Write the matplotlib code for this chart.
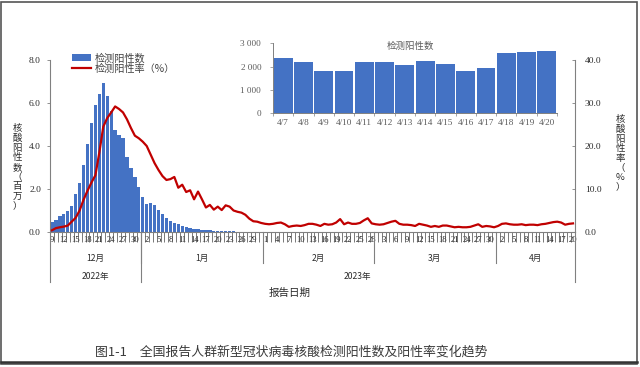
import numpy as np
import pandas as pd
import matplotlib
matplotlib.use("Agg")
import matplotlib.pyplot as plt
from matplotlib.patches import Rectangle
from matplotlib.lines import Line2D

plt.rcParams['font.family'] = ['Noto Sans CJK SC', 'DejaVu Sans']

# ---------------- data ----------------
dates = pd.date_range("2022-12-09", "2023-04-20", freq="D")

# daily nucleic-acid positives (millions)
pos_dec = [0.47, 0.54, 0.74, 0.86, 1.00, 1.22, 1.78, 2.28, 3.10, 4.07, 5.08, 5.90,
           6.44, 6.94, 6.32, 5.65, 4.73, 4.50, 4.36, 3.50, 3.00, 2.55, 2.10]
pos_jan = [1.62, 1.30, 1.36, 1.25, 1.02, 0.85, 0.66, 0.50, 0.40, 0.36, 0.29, 0.23,
           0.19, 0.16, 0.12, 0.11, 0.09, 0.08, 0.06, 0.05, 0.04, 0.035, 0.030, 0.026,
           0.022, 0.019, 0.016, 0.014, 0.012, 0.011, 0.010]
pos_feb = [0.009, 0.008, 0.008, 0.007, 0.007, 0.006, 0.006, 0.006, 0.005, 0.005,
           0.005, 0.005, 0.004, 0.004, 0.004, 0.004, 0.004, 0.003, 0.003, 0.003,
           0.003, 0.003, 0.003, 0.003, 0.003, 0.003, 0.003, 0.003]
pos_mar = [0.003, 0.003, 0.003, 0.003, 0.003, 0.003, 0.003, 0.003, 0.003, 0.003,
           0.0025, 0.0025, 0.0025, 0.0025, 0.0025, 0.0025, 0.0025, 0.0025, 0.0025,
           0.0025, 0.002, 0.002, 0.002, 0.002, 0.002, 0.002, 0.002, 0.002, 0.002,
           0.002, 0.002]
pos_apr_early = [0.0022, 0.0024, 0.0021, 0.0023, 0.0022, 0.0021]

# inset: positives 4/7 - 4/20
inset_labels = ["4/7", "4/8", "4/9", "4/10", "4/11", "4/12", "4/13",
                "4/14", "4/15", "4/16", "4/17", "4/18", "4/19", "4/20"]
inset_counts = [2360, 2200, 1830, 1830, 2200, 2200, 2060,
                2230, 2100, 1815, 1940, 2600, 2640, 2670]

positives = pos_dec + pos_jan + pos_feb + pos_mar + pos_apr_early + [c / 1e6 for c in inset_counts]

# positive rate (%)
rate_dec = [0.4, 0.9, 1.1, 1.25, 1.5, 2.4, 3.3, 5.0, 7.5, 9.6, 11.5, 13.2, 18.5,
            24.5, 26.5, 27.8, 29.2, 28.6, 27.8, 26.2, 24.2, 22.4, 21.8]
rate_jan = [21.0, 20.0, 18.0, 16.0, 14.4, 13.0, 12.1, 12.3, 12.8, 10.3, 11.0, 9.3,
            9.7, 7.6, 9.4, 7.6, 5.7, 6.3, 5.2, 5.9, 5.1, 6.2, 5.9, 5.0, 4.7, 4.5,
            4.0, 3.1, 2.5, 2.4, 2.1]
rate_feb = [1.9, 1.8, 1.9, 2.1, 2.2, 1.8, 1.2, 1.4, 1.5, 1.4, 1.6, 1.9, 1.9, 1.7,
            1.4, 1.9, 1.7, 1.8, 2.2, 3.0, 1.8, 2.2, 1.9, 1.9, 2.1, 2.7, 3.2, 2.0]
rate_mar = [1.8, 1.7, 1.8, 2.1, 2.4, 2.6, 1.9, 1.7, 1.7, 1.6, 1.4, 1.9, 1.7, 1.5,
            1.2, 1.4, 1.2, 1.5, 1.5, 1.3, 1.1, 1.2, 1.1, 1.1, 1.2, 1.5, 1.8, 1.2,
            1.4, 1.3, 1.1]
rate_apr = [1.4, 1.9, 2.0, 1.8, 1.7, 1.7, 1.8, 1.6, 1.7, 1.7, 1.6, 1.8, 1.9, 2.1,
            2.3, 2.4, 2.2, 1.7, 1.9, 2.0]
rates = rate_dec + rate_jan + rate_feb + rate_mar + rate_apr

left_ticks = [0, 2, 4, 6, 8]
right_ticks = [0, 10, 20, 30, 40]
inset_ticks = [0, 1000, 2000, 3000]
inset_tick_labels = ["0", "1 000", "2 000", "3 000"]

month_names = ["12月", "1月", "2月", "3月", "4月"]
year_names = ["2022年", "2023年"]

# ---------------- figure ----------------
W, H = 640, 367
fig = plt.figure(figsize=(6.4, 3.67), dpi=100)
fig.patch.set_facecolor("white")

BLUE = "#4472C4"
RED = "#C00000"
GRAY = "#808080"
TXT = "#2b2b2b"
SERIF = ["Liberation Serif", "DejaVu Serif"]

x = np.arange(len(dates))
ax = fig.add_axes([50 / W, 1 - 232 / H, 525 / W, 172 / H])
bars = ax.bar(x, positives, width=0.84, color=BLUE, zorder=2, linewidth=0)
ax.set_xlim(-0.5, len(dates) - 0.5)
ax.set_ylim(0, 8)
for s in ["top", "right"]:
    ax.spines[s].set_visible(False)
for s in ["left", "bottom"]:
    ax.spines[s].set_color(GRAY)
    ax.spines[s].set_linewidth(0.8)

ax.set_yticks(left_ticks)
ax.set_yticklabels([f"{v:.1f}" for v in left_ticks], family=SERIF, fontsize=6.8, color=TXT)
ax.tick_params(axis="y", direction="out", length=2.5, width=0.6, color=GRAY, pad=4)

label_idx = list(range(0, len(dates), 3))
ax.set_xticks(label_idx)
ax.set_xticklabels([str(dates[i].day) for i in label_idx], family=SERIF, fontsize=6.2,
                   color="#1a1a1a")
ax.tick_params(axis="x", which="major", length=0, pad=3.2)
ax.set_xticks(np.arange(-0.5, len(dates), 1), minor=True)
ax.tick_params(axis="x", which="minor", direction="out", length=7, width=0.55, color="#555555")

# month / year separators
tr = ax.get_xaxis_transform()
month_starts = [i for i, d in enumerate(dates) if d.day == 1]
month_bounds = [-0.5] + [m - 0.5 for m in month_starts] + [len(dates) - 0.5]
for b in month_bounds[1:-1]:
    ax.plot([b, b], [0, -0.18], transform=tr, color=GRAY, lw=0.8, clip_on=False)
year_bound = month_starts[0] - 0.5
for b in [-0.5, year_bound, len(dates) - 0.5]:
    ax.plot([b, b], [0, -0.292], transform=tr, color=GRAY, lw=0.8, clip_on=False)
for name, a, b in zip(month_names, month_bounds[:-1], month_bounds[1:]):
    ax.text((a + b) / 2, -0.152, name, transform=tr, ha="center", va="center",
            fontsize=6.2, color=TXT)
ax.text((-0.5 + year_bound) / 2, -0.258, year_names[0], transform=tr, ha="center",
        va="center", fontsize=6.2, color=TXT)
ax.text((year_bound + len(dates) - 0.5) / 2, -0.258, year_names[1], transform=tr,
        ha="center", va="center", fontsize=6.2, color=TXT)

ax2 = ax.twinx()
line, = ax2.plot(x, rates, color=RED, lw=1.6, zorder=3, solid_joinstyle="round")
ax2.set_ylim(0, 40)
ax2.set_xlim(-0.5, len(dates) - 0.5)
for s in ["top", "left", "bottom"]:
    ax2.spines[s].set_visible(False)
ax2.spines["right"].set_color(GRAY)
ax2.spines["right"].set_linewidth(0.8)
ax2.set_yticks(right_ticks)
ax2.set_yticklabels([f"{v:.1f}" for v in right_ticks], family=SERIF, fontsize=6.8, color=TXT)
ax2.tick_params(axis="y", direction="in", length=2.5, width=0.6, color=GRAY, pad=7)

# legend
leg = ax2.legend([bars, line], ["检测阳性数", "检测阳性率（%）"], loc="upper left",
                 bbox_to_anchor=(72 / W, 1 - 53 / H), bbox_transform=fig.transFigure,
                 frameon=False, fontsize=7.3, handlelength=1.9, handletextpad=0.3,
                 labelspacing=0.05, borderpad=0, borderaxespad=0)
for t in leg.get_texts():
    t.set_color("#404040")

# axis titles (vertical stacked)
fig.text(17 / W, 1 - 167 / H, "\n".join("核酸阳性数（百万）"), ha="center", va="center",
         fontsize=6.8, color=TXT, linespacing=1.08)
fig.text(620 / W, 1 - 153 / H, "\n".join("核酸阳性率（%）"), ha="center", va="center",
         fontsize=6.8, color=TXT, linespacing=1.08)
fig.text(290 / W, 1 - 293 / H, "报告日期", ha="center", va="center", fontsize=7.6, color=TXT)

# inset
axi = fig.add_axes([273 / W, 1 - 113.3 / H, 284 / W, 70 / H])
xi = np.arange(len(inset_labels))
axi.bar(xi, inset_counts, width=0.93, color=BLUE, linewidth=0)
axi.set_xlim(-0.5, len(inset_labels) - 0.5)
axi.set_ylim(0, 3000)
for s in ["top", "right"]:
    axi.spines[s].set_visible(False)
for s in ["left", "bottom"]:
    axi.spines[s].set_color(GRAY)
    axi.spines[s].set_linewidth(0.7)
axi.set_yticks(inset_ticks)
axi.set_yticklabels(inset_tick_labels, family=SERIF, fontsize=6.6, color="#595959")
axi.tick_params(axis="y", direction="out", length=2.5, width=0.5, color=GRAY, pad=6)
axi.set_xticks(xi)
axi.set_xticklabels(inset_labels, family=SERIF, fontsize=6.6, color="#595959")
axi.tick_params(axis="x", which="major", length=0, pad=4)
axi.set_xticks(np.arange(-0.5, len(inset_labels), 1), minor=True)
axi.tick_params(axis="x", which="minor", direction="out", length=2, width=0.5, color=GRAY)
axi.patch.set_alpha(0)
fig.text(410 / W, 1 - 46 / H, "检测阳性数", ha="center", va="center", fontsize=6.8,
         color="#595959")

# caption
fig.text(95 / W, 1 - 352 / H, "图1-1　全国报告人群新型冠状病毒核酸检测阳性数及阳性率变化趋势",
         ha="left", va="center", fontsize=9.3, color="#3a3a3a")

# frame and bottom rule
fig.add_artist(Rectangle((1 / W, 1 - 364 / H), 636 / W, 362 / H, transform=fig.transFigure,
                         fill=False, edgecolor="#555555", lw=1.2))
fig.add_artist(Line2D([1 / W, 637 / W], [1 - 362 / H, 1 - 362 / H], transform=fig.transFigure,
                      color="#333333", lw=1.8))

fig.savefig("out.png", dpi=100, facecolor="white")
